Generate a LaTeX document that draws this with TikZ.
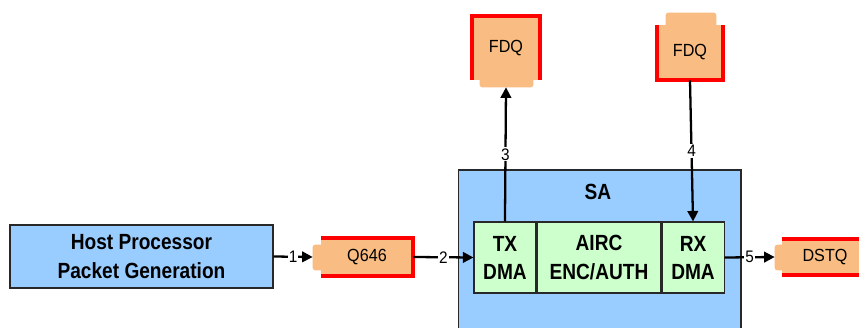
\documentclass[tikz,border=0pt]{standalone}
\usepackage{fontspec}
\setmainfont{Liberation Sans}
\newfontfamily\estrecha[FakeStretch=0.87]{Liberation Sans}
\newfontfamily\pequena[FakeStretch=0.92]{Liberation Sans}
\usepackage{tikz}
\usetikzlibrary{arrows.meta, positioning, calc}
\usepackage{xcolor}
\definecolor{bloque}{RGB}{153,204,255}
\definecolor{modulo}{RGB}{204,255,204}
\definecolor{cola}{RGB}{249,188,130}
\definecolor{borde}{RGB}{40,40,40}
\definecolor{rojo}{RGB}{255,0,0}

\begin{document}
\begin{tikzpicture}[x=0.02cm, y=-0.02cm,
    caja/.style={draw=borde, line width=0.6pt, align=center, inner sep=0pt,
      font=\estrecha\fontsize{12.5}{16}\selectfont\bfseries},
    cuerpo/.style={fill=cola, inner sep=0pt, font=\pequena\fontsize{10}{12}\selectfont},
    borderojo/.style={rojo, line width=2.3pt},
    flujo/.style={line width=1.3pt, -{Triangle[length=6pt,width=6pt]}},
    num/.style={fill=white, inner sep=0.6pt, font=\pequena\fontsize{9.5}{10}\selectfont}]
    \clip (0,0) rectangle (859,328);

    % bloque origen
    \node[caja, fill=bloque, minimum width=5.26cm, minimum height=1.26cm]
      (host) at (141.5,256.5) {Host Processor\\Packet Generation};

    % SA con sus tres modulos
    \node[caja, fill=bloque, minimum width=5.66cm, minimum height=3.6cm]
      (sa) at (599.5,260) {};
    \node[font=\estrecha\fontsize{12.5}{16}\selectfont\bfseries] (satit) at (598,192) {SA};
    \node[caja, fill=modulo, minimum width=2.48cm, minimum height=1.42cm]
      (airc) at (599,257.5) {AIRC\\ENC/AUTH};
    \node[caja, fill=modulo, minimum width=1.24cm, minimum height=1.42cm,
      left=0pt of airc] (txdma) {TX\\DMA};
    \node[caja, fill=modulo, minimum width=1.24cm, minimum height=1.42cm,
      right=0pt of airc] (rxdma) {RX\\DMA};

    % colas (cuerpo, extremo abierto y bordes rojos)
    \node[cuerpo, minimum width=1.84cm, minimum height=0.76cm] (q646) at (367,257) {Q646};
    \fill[cola, rounded corners=1.5pt] ($(q646.north west)+(-8,7)$) rectangle ($(q646.south west)+(3,-6)$);
    \draw[borderojo] (q646.north west) -- (q646.north east) -- (q646.south east) -- (q646.south west);
    \coordinate (q646in) at ($(q646.west)+(-8,0)$);

    \node[cuerpo, minimum width=1.36cm, minimum height=1.28cm] (fdqa) at (506,48) {FDQ};
    \fill[cola, rounded corners=1.5pt] ($(fdqa.south west)+(8,-3)$) rectangle ($(fdqa.south east)+(-7,7)$);
    \draw[borderojo] (fdqa.south west) -- (fdqa.north west) -- (fdqa.north east) -- (fdqa.south east);
    \coordinate (fdqain) at ($(fdqa.south)+(0,7)$);

    \node[cuerpo, minimum width=1.32cm, minimum height=1.1cm] (fdqb) at (690,52.5) {FDQ};
    \fill[cola, rounded corners=1.5pt] ($(fdqb.north west)+(9,3)$) rectangle ($(fdqb.north east)+(-7,-12)$);
    \draw[borderojo] (fdqb.north west) -- (fdqb.south west) -- (fdqb.south east) -- (fdqb.north east);

    \node[cuerpo, minimum width=1.72cm, minimum height=0.72cm] (dstq) at (825,257) {DSTQ};
    \fill[cola, rounded corners=1.5pt] ($(dstq.north west)+(-7,6)$) rectangle ($(dstq.south west)+(3,-5)$);
    \draw[borderojo] (dstq.north west) -- (dstq.north east) -- (dstq.south east) -- (dstq.south west);
    \coordinate (dstqin) at ($(dstq.west)+(-7,0)$);

    % flujo de paquetes
    \draw[flujo] (host.east) -- node[num]{1} (q646in);
    \draw[flujo] (q646.east) -- node[num]{2} (txdma.west);
    \draw[flujo] (txdma.north) -- node[num]{3} (fdqain);
    \draw[flujo] (fdqb.south) -- node[num]{4} (rxdma.north);
    \draw[flujo] (rxdma.east) -- node[num]{5} (dstqin);
  \end{tikzpicture}
\end{document}
